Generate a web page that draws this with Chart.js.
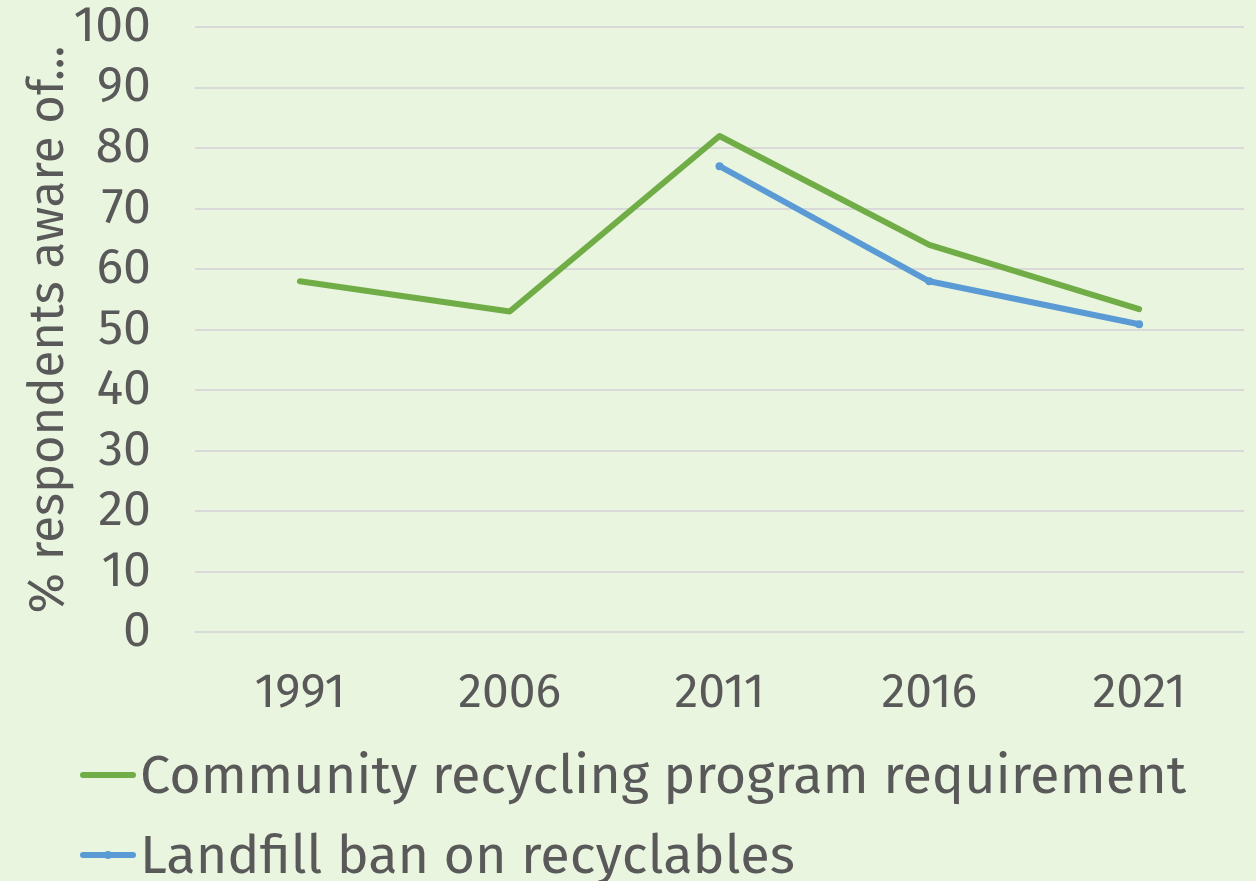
<!DOCTYPE html>
<html>
<head>
<meta charset="utf-8">
<script src="https://cdn.jsdelivr.net/npm/chart.js@4"></script>
<style>
  html, body { margin: 0; padding: 0; background: #EAF5DF; overflow: hidden; }
  #wrap { position: relative; width: 1256px; height: 774px; }
  #legend { position: absolute; left: 80px; top: 735px; font-family: 'Fira Sans', 'Noto Sans', sans-serif;
            font-size: 54px; color: #595959; }
  .item { display: flex; align-items: center; height: 80px; white-space: nowrap; }
  .swatch { width: 56px; height: 6px; border-radius: 3px; margin-right: 4px; position: relative; }
  .dot { position: absolute; left: 24px; top: -1px; width: 8px; height: 8px; border-radius: 4px; }
</style>
</head>
<body>
<div id="wrap"><canvas id="awarenessChart"></canvas></div>
<div id="legend"></div>
<script>
// data
const years = ['1991', '2006', '2011', '2016', '2021'];
const communityProgram = [58, 53, 82, 64, 53.4];
const landfillBan = [null, null, 77, 58, 50.9];

const textColor = '#595959';
const fontFamily = "'Fira Sans', 'Noto Sans', sans-serif";

const ctx = document.getElementById('awarenessChart').getContext('2d');

const awarenessChart = new Chart(ctx, {
    type: 'line',
    data: {
        labels: years,
        datasets: [{
            label: 'Community recycling program requirement',
            data: communityProgram,
            borderColor: '#70AD47',
            backgroundColor: '#70AD47',
            borderWidth: 6,
            borderCapStyle: 'round',
            borderJoinStyle: 'round',
            pointRadius: 0,
            tension: 0
        }, {
            label: 'Landfill ban on recyclables',
            data: landfillBan,
            borderColor: '#5B9BD5',
            backgroundColor: '#5B9BD5',
            borderWidth: 6,
            borderCapStyle: 'round',
            borderJoinStyle: 'round',
            pointRadius: 4,
            pointBorderWidth: 0,
            tension: 0
        }]
    },
    options: {
        responsive: true,
        maintainAspectRatio: false,
        animation: false,
        layout: { padding: { left: 20, right: 12, top: 27, bottom: 28 } },
        plugins: {
            tooltip: { enabled: false },
            legend: { display: false }
        },
        scales: {
            x: {
                offset: true,
                grid: { display: false },
                border: { display: false },
                ticks: {
                    color: textColor,
                    font: { family: fontFamily, size: 48 },
                    padding: 24
                }
            },
            y: {
                min: 0,
                max: 100,
                grid: { color: '#D9D9D9', lineWidth: 2, drawTicks: false },
                border: { display: false },
                ticks: {
                    stepSize: 10,
                    autoSkip: false,
                    color: textColor,
                    font: { family: fontFamily, size: 50 },
                    padding: 44
                },
                title: {
                    display: true,
                    text: '% respondents aware of...',
                    color: textColor,
                    font: { family: fontFamily, size: 49 },
                    padding: 0
                },
                // fixed axis width, and no extra top/bottom room for the labels
                afterFit: (scale) => {
                    scale.width = 175;
                    scale.paddingTop = 0;
                    scale.paddingBottom = 0;
                }
            }
        }
    }
});

// legend built from the chart's own datasets
const legendEl = document.getElementById('legend');
awarenessChart.data.datasets.forEach((ds, i) => {
    const item = document.createElement('div');
    item.className = 'item';
    const swatch = document.createElement('span');
    swatch.className = 'swatch';
    swatch.style.background = ds.borderColor;
    if (i === 1) {
        const dot = document.createElement('span');
        dot.className = 'dot';
        dot.style.background = ds.borderColor;
        swatch.appendChild(dot);
    }
    item.appendChild(swatch);
    item.appendChild(document.createTextNode(ds.label));
    legendEl.appendChild(item);
});
</script>
</body>
</html>
